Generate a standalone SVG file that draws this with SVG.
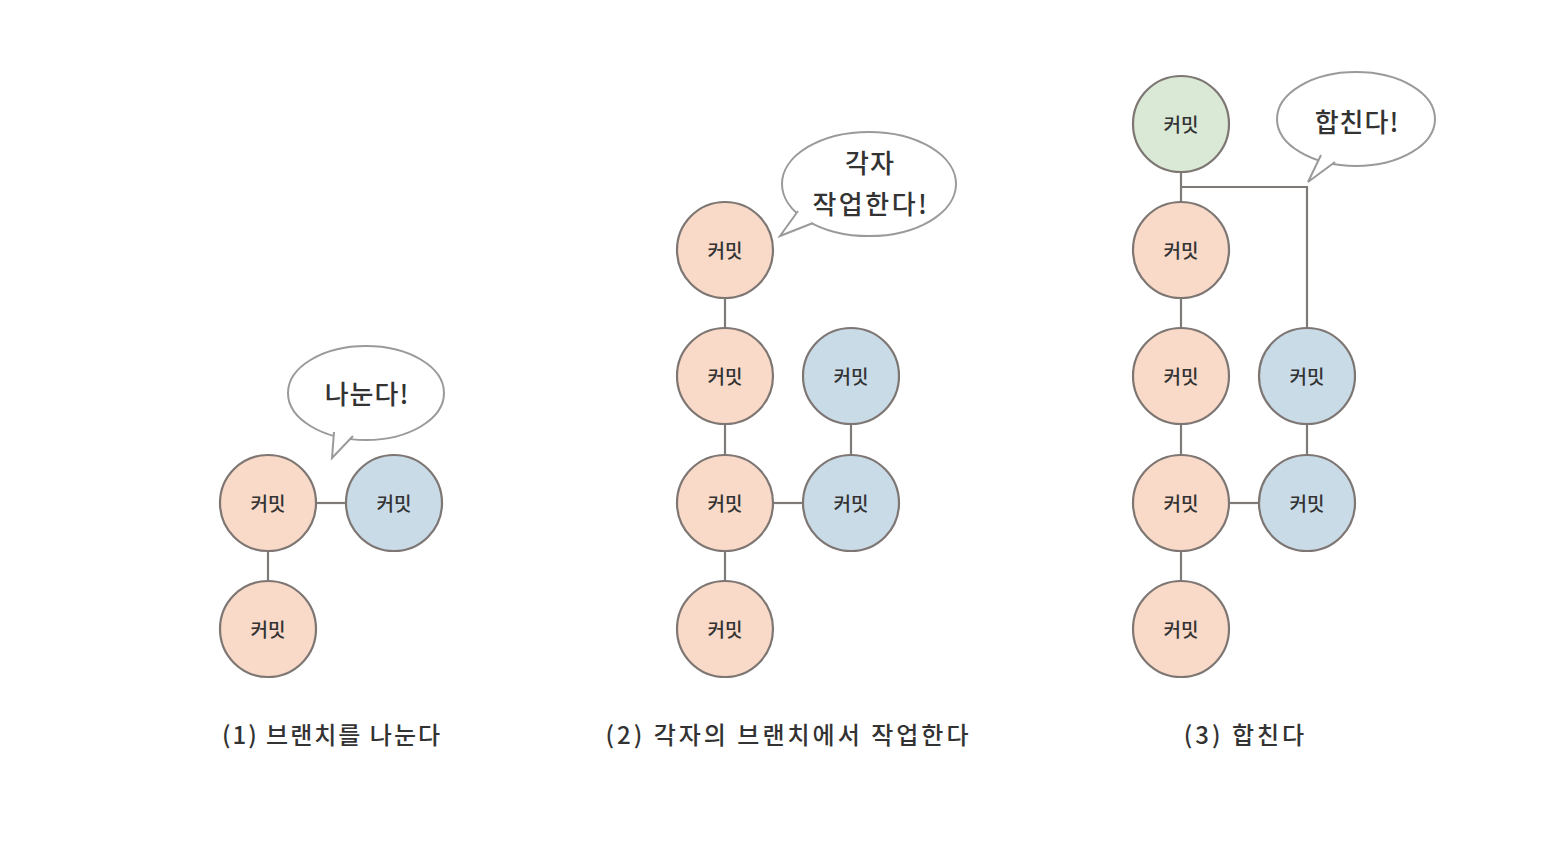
<svg xmlns="http://www.w3.org/2000/svg" width="1562" height="852" viewBox="0 0 1562 852">
<style>
.n{stroke:#7d7673;stroke-width:2.2}
.p{fill:#f9d9c8}
.b{fill:#cadbe8}
.g{fill:#d9e9d6}
.t{font-family:"Noto Sans CJK KR","Noto Sans",sans-serif;fill:#333;text-anchor:middle;dominant-baseline:central}
.nt{font-size:19px;font-weight:500}
.bt{font-size:26px;font-weight:500;letter-spacing:1px}
.lt{font-size:24px;font-weight:500}
.c{stroke:#7d7a78;stroke-width:2.2;fill:none}
.bub{fill:#fff;stroke:#9a9a9a;stroke-width:2}
</style>
<rect width="1562" height="852" fill="#fff"/>
<g id="connectors">
<line class="c" x1="268" y1="551" x2="268" y2="581"/>
<line class="c" x1="316" y1="503" x2="346" y2="503"/>
<line class="c" x1="725" y1="298" x2="725" y2="328"/>
<line class="c" x1="725" y1="424" x2="725" y2="455"/>
<line class="c" x1="725" y1="551" x2="725" y2="581"/>
<line class="c" x1="773" y1="503" x2="803" y2="503"/>
<line class="c" x1="851" y1="424" x2="851" y2="455"/>
<line class="c" x1="1181" y1="172" x2="1181" y2="202"/>
<line class="c" x1="1181" y1="298" x2="1181" y2="328"/>
<line class="c" x1="1181" y1="424" x2="1181" y2="455"/>
<line class="c" x1="1181" y1="551" x2="1181" y2="581"/>
<line class="c" x1="1229" y1="503" x2="1259" y2="503"/>
<line class="c" x1="1307" y1="424" x2="1307" y2="455"/>
<polyline class="c" points="1181,187 1307,187 1307,328"/>
</g>
<g id="bubble1">
<ellipse class="bub" cx="366" cy="393" rx="78" ry="47"/>
<path class="bub" d="M334,432 L332,458 L353,436"/>
<text class="t bt" x="367" y="392">나눈다!</text>
</g>
<g id="bubble2">
<ellipse class="bub" cx="869" cy="184" rx="87" ry="52"/>
<path class="bub" d="M798,211 L780,236 L813,223"/>
<text class="t bt" x="870" y="161">각자</text>
<text class="t bt" x="871" y="202" style="letter-spacing:2.5px">작업한다!</text>
</g>
<g id="bubble3">
<ellipse class="bub" cx="1356" cy="119" rx="79" ry="47"/>
<path class="bub" d="M1321,155 L1308,182 L1335,162"/>
<text class="t bt" x="1357" y="120">합친다!</text>
</g>
<g id="p1n1"><circle class="n p" cx="268" cy="503" r="48"/><text class="t nt" x="268" y="502">커밋</text></g>
<g id="p1n2"><circle class="n b" cx="394" cy="503" r="48"/><text class="t nt" x="394" y="502">커밋</text></g>
<g id="p1n3"><circle class="n p" cx="268" cy="629" r="48"/><text class="t nt" x="268" y="628">커밋</text></g>
<g id="p2n1"><circle class="n p" cx="725" cy="250" r="48"/><text class="t nt" x="725" y="249">커밋</text></g>
<g id="p2n2"><circle class="n p" cx="725" cy="376" r="48"/><text class="t nt" x="725" y="375">커밋</text></g>
<g id="p2n3"><circle class="n p" cx="725" cy="503" r="48"/><text class="t nt" x="725" y="502">커밋</text></g>
<g id="p2n4"><circle class="n p" cx="725" cy="629" r="48"/><text class="t nt" x="725" y="628">커밋</text></g>
<g id="p2n5"><circle class="n b" cx="851" cy="376" r="48"/><text class="t nt" x="851" y="375">커밋</text></g>
<g id="p2n6"><circle class="n b" cx="851" cy="503" r="48"/><text class="t nt" x="851" y="502">커밋</text></g>
<g id="p3n0"><circle class="n g" cx="1181" cy="124" r="48"/><text class="t nt" x="1181" y="123">커밋</text></g>
<g id="p3n1"><circle class="n p" cx="1181" cy="250" r="48"/><text class="t nt" x="1181" y="249">커밋</text></g>
<g id="p3n2"><circle class="n p" cx="1181" cy="376" r="48"/><text class="t nt" x="1181" y="375">커밋</text></g>
<g id="p3n3"><circle class="n p" cx="1181" cy="503" r="48"/><text class="t nt" x="1181" y="502">커밋</text></g>
<g id="p3n4"><circle class="n p" cx="1181" cy="629" r="48"/><text class="t nt" x="1181" y="628">커밋</text></g>
<g id="p3n5"><circle class="n b" cx="1307" cy="376" r="48"/><text class="t nt" x="1307" y="375">커밋</text></g>
<g id="p3n6"><circle class="n b" cx="1307" cy="503" r="48"/><text class="t nt" x="1307" y="502">커밋</text></g>
<g id="labels">
<text class="t lt" x="332" y="733" style="letter-spacing:2px">(1) 브랜치를 나눈다</text>
<text class="t lt" x="788.5" y="733" style="letter-spacing:3px">(2) 각자의 브랜치에서 작업한다</text>
<text class="t lt" x="1245.5" y="733" style="letter-spacing:3px">(3) 합친다</text>
</g>
</svg>
